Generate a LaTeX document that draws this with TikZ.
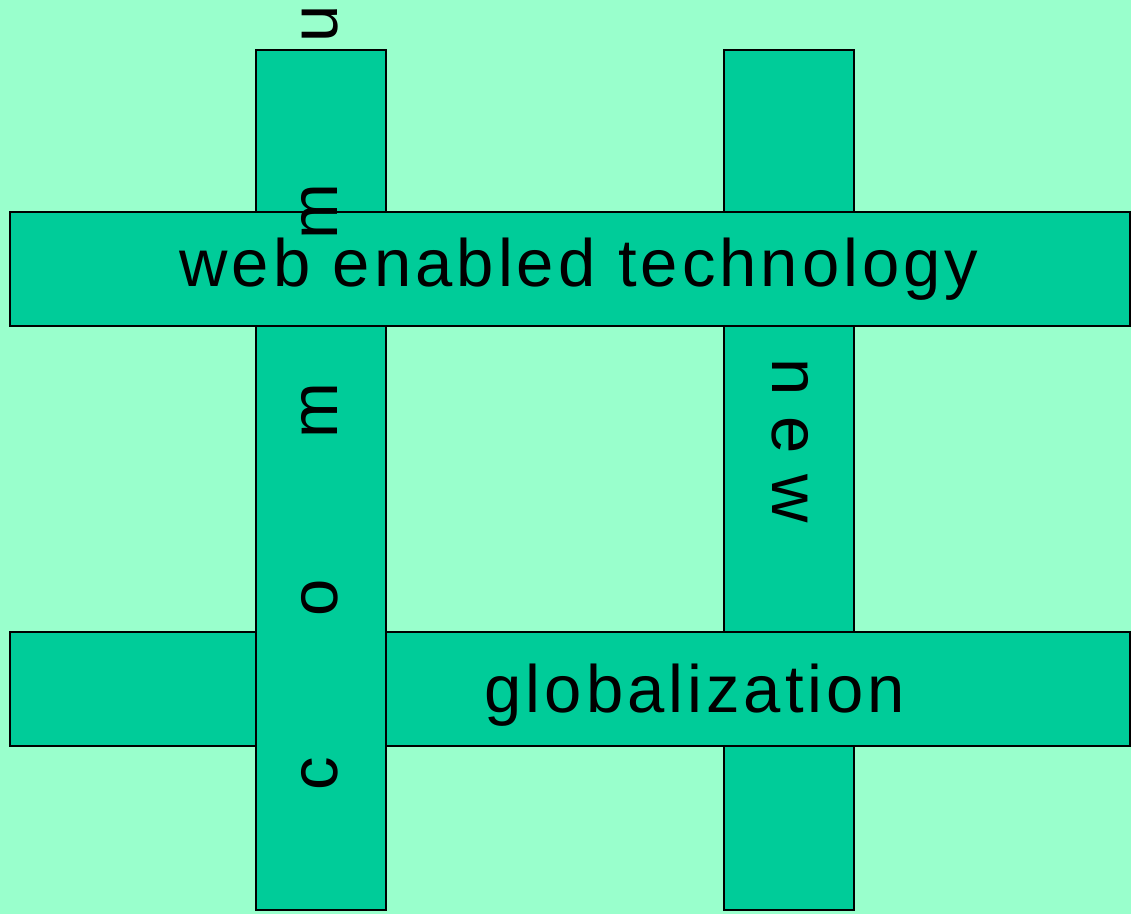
\documentclass[tikz,border=0pt]{standalone}
\usepackage{fontspec}
\setmainfont{Liberation Sans}
\newfontfamily\barfont[LetterSpace=6]{Liberation Sans}
\newfontfamily\wordfont[LetterSpace=31]{Liberation Sans}
\usepackage{xcolor}
\definecolor{fundo}{RGB}{153,255,204}
\definecolor{barra}{RGB}{0,204,153}
\usetikzlibrary{positioning}

\begin{document}
\begin{tikzpicture}[
    x=1pt, y=1pt,
    vbar/.style={
      rectangle, draw=black, fill=barra, line width=1.5pt,
      minimum width=130pt, minimum height=860pt,
      inner sep=0pt, outer sep=0pt
    },
    hbar/.style={
      rectangle, draw=black, fill=barra, line width=1.5pt,
      minimum width=1120pt, minimum height=114pt,
      inner sep=0pt, outer sep=0pt
    },
    bigtext/.style={font=\barfont\fontsize{67}{70}\selectfont, inner sep=0pt, anchor=base},
    letter/.style={font=\fontsize{67}{70}\selectfont, inner sep=0pt, anchor=base, rotate=90}
  ]

  % Background
  \fill[fundo] (0,0) rectangle (1131,914);
  \useasboundingbox (0,0) rectangle (1131,914);

  % Bars, back to front
  \node[vbar] (barnew)  at (789,434) {};
  \node[hbar] (barglob) at (570,225) {};
  \node[vbar] (barcom)  at (321,434) {};
  \node[hbar] (barweb)  at (570,645) {};

  % Texts
  \node[bigtext] (txtweb)  at (579,627) {web enabled technology};
  \node[bigtext] (txtglob) at (695,202) {globalization};
  \node[bigtext, font=\wordfont\fontsize{67}{70}\selectfont, rotate=-90]
       (txtnew) at (772,473) {new};

  \foreach \ch/\yy [count=\i] in {c/774, o/598, m/411, m/212, u/24}
    \node[letter] (com\i) at (337,914-\yy) {\ch};

\end{tikzpicture}
\end{document}
